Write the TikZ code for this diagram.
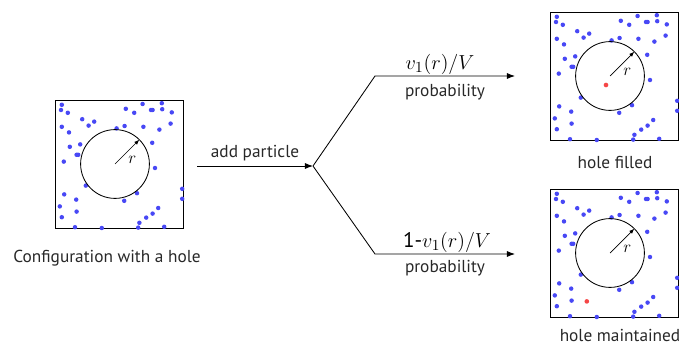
\documentclass[tikz,border=0pt]{standalone}
\usepackage{fontspec}
\setsansfont{PT Sans}
\usetikzlibrary{arrows.meta,calc,positioning}
\definecolor{ParticleBlue}{RGB}{72,72,245}
\definecolor{ParticleRed}{RGB}{245,70,70}
\definecolor{LabelGray}{RGB}{40,40,40}

\tikzset{
  holebox/.style={draw,line width=.7pt,minimum size=3.2cm,inner sep=0pt,outer sep=0pt},
  caption/.style={font=\sffamily\fontsize{12.3}{14}\selectfont,text=LabelGray,inner sep=1pt},
  rate/.style={font=\fontsize{15}{17}\selectfont,inner sep=1pt},
}

% particles, circle and radius arrow inside a box node
\newcommand\fillhole[1]{%
  \begin{scope}[shift={(#1.south west)}]
    \foreach \x/\y in {.17/3.08,.15/2.95,.32/2.88,2.19/3.10,2.67/3.12,1.77/2.98,1.98/2.88,
      2.40/2.95,2.44/2.95,2.68/2.97,2.92/2.89,.68/2.72,.84/2.56,.98/2.66,.17/2.53,.35/2.39,
      1.54/2.49,1.74/2.55,2.21/2.53,2.89/2.61,2.61/2.46,.63/2.09,.37/2.03,2.43/2.13,.54/1.83,
      .58/1.83,.22/1.66,2.50/1.50,.77/1.06,.23/.84,.53/.71,2.05/.87,1.73/.68,3.18/.98,3.18/.73,
      .12/.54,.54/.41,.17/.27,2.58/.50,2.44/.36,2.28/.26,2.11/.13,.50/.02,1.17/0,2.08/.01,2.73/.03}
      \fill[ParticleBlue] (\x,\y) circle (.056);
    \coordinate (#1-c) at (1.5,1.6);
    \draw[line width=.6pt] (#1-c) circle (.86);
    \draw[line width=.5pt,-{Latex[length=1.3mm,width=1mm]}] (#1-c) -- ++(45:.86);
    \node[rate,font=\fontsize{13}{15}\selectfont] at ($(#1-c)+(.43,.1)$) {$r$};
  \end{scope}}

\begin{document}
\begin{tikzpicture}[>=Latex]
\useasboundingbox (0,0) rectangle (16.975,8.625);

% boxes
\node[holebox] (cfg) at (2.975,4.525) {};
\node[holebox] (filled) at (15.35,6.725) {};
\node[holebox] (kept) at (15.35,2.3) {};
\fillhole{cfg}
\fillhole{filled}
\fillhole{kept}
\fill[ParticleRed] ($(filled.south west)+(1.4,1.375)$) circle (.058);
\fill[ParticleRed] ($(kept.south west)+(.92,.39)$) circle (.058);

% captions
\node[caption] (cfgtxt) at (2.675,2.175) {Configuration with a hole};
\node[caption] (filledtxt) at (15.375,4.575) {hole filled};
\node[caption] (kepttxt) at (15.5,.24) {hole maintained};

% branching arrows
\coordinate (start) at (4.925,4.475);
\coordinate (split) at (7.825,4.475);
\coordinate (upbend) at (9.375,6.725);
\coordinate (upend) at (12.875,6.725);
\coordinate (lowbend) at (9.375,2.275);
\coordinate (lowend) at (12.875,2.275);
\draw[->,line width=.6pt] (start) -- node[caption,above=2pt]{add particle} (split);
\draw[->,line width=.6pt] (split) -- (upbend) -- (upend);
\draw[->,line width=.6pt] (split) -- (lowbend) -- (lowend);

\node[rate] (pfill) at (11.0,7.025) {$v_1(r)/V$};
\node[caption] (pfilltxt) at (11.125,6.325) {probability};
\node[rate] (pkeep) at (11.175,2.575) {{\sffamily 1-}$v_1(r)/V$};
\node[caption] (pkeeptxt) at (11.125,1.925) {probability};
\end{tikzpicture}
\end{document}
